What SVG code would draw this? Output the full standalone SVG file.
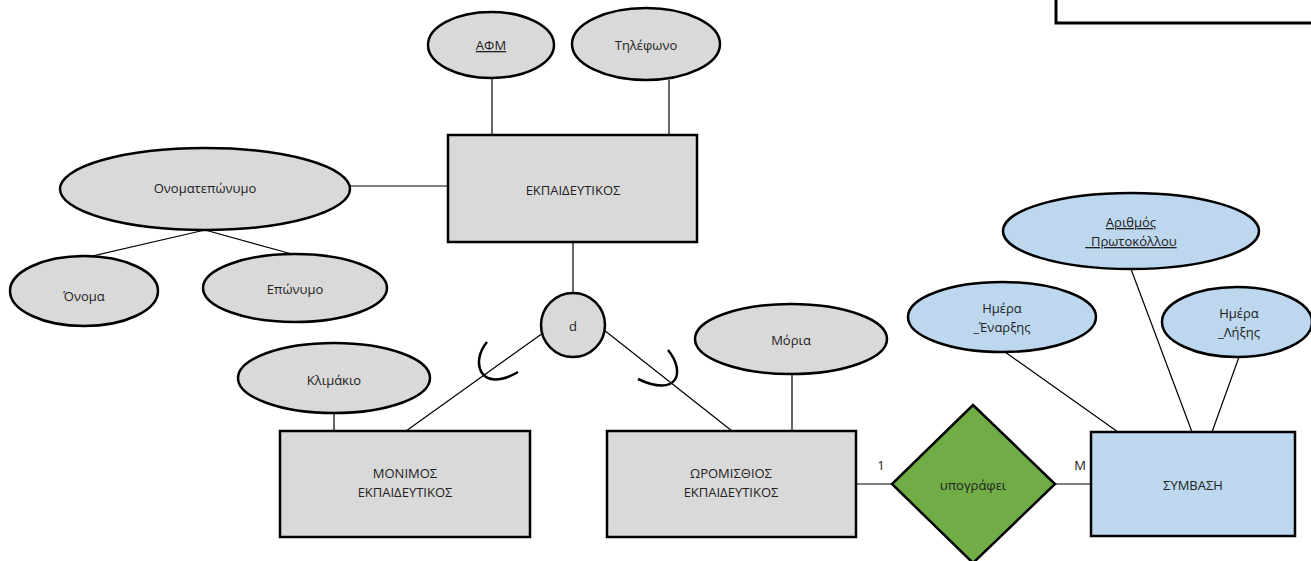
<svg xmlns="http://www.w3.org/2000/svg" width="1311" height="561" viewBox="0 0 1311 561">
<style>
.ent{fill:#d9d9d9;stroke:#000;stroke-width:2.5}
.att{fill:#d9d9d9;stroke:#000;stroke-width:2.5}
.batt{fill:#bdd7ee;stroke:#000;stroke-width:2.5}
.ln{stroke:#000;stroke-width:1.2;fill:none}
.arc{stroke:#000;stroke-width:2.5;fill:none}
text{font-family:"Open Sans","Noto Sans","Liberation Sans",sans-serif;font-size:13px;fill:#222;text-anchor:middle}
.u{text-decoration:underline}
</style>
<rect x="0" y="0" width="1311" height="561" fill="#fff"/>
<rect x="1056" y="-10" width="270" height="33" fill="#fff" stroke="#000" stroke-width="3"/>
<g id="connectors">
<line class="ln" x1="492" y1="79" x2="492" y2="135"/>
<line class="ln" x1="669" y1="80" x2="669" y2="135"/>
<line class="ln" x1="350" y1="186" x2="447" y2="186"/>
<line class="ln" x1="205" y1="230" x2="88" y2="257"/>
<line class="ln" x1="205" y1="230" x2="292" y2="254"/>
<line class="ln" x1="573" y1="242" x2="573" y2="293"/>
<line class="ln" x1="543" y1="333" x2="406" y2="431"/>
<line class="ln" x1="604" y1="330" x2="732" y2="431"/>
<path class="arc" d="M487,342 C470,362 480,394 518,372"/>
<path class="arc" d="M668,350 C686,372 678,398 638,379"/>
<line class="ln" x1="334" y1="413" x2="334" y2="431"/>
<line class="ln" x1="792" y1="374" x2="792" y2="431"/>
<line class="ln" x1="856" y1="484" x2="892" y2="484"/>
<line class="ln" x1="1055" y1="484" x2="1091" y2="484"/>
<line class="ln" x1="1005" y1="352" x2="1118" y2="432"/>
<line class="ln" x1="1131" y1="269" x2="1192" y2="432"/>
<line class="ln" x1="1239" y1="357" x2="1212" y2="432"/>
<text x="881" y="470">1</text>
<text x="1080" y="470">M</text>
</g>
<g id="afm"><ellipse class="att" cx="491" cy="45" rx="63" ry="33"/><text class="u" x="491" y="50">ΑΦΜ</text></g>
<g id="tilefono"><ellipse class="att" cx="646" cy="44" rx="74" ry="36"/><text x="646" y="50">Τηλέφωνο</text></g>
<g id="ekpaideutikos"><rect class="ent" x="448" y="135" width="249" height="107"/><text x="573" y="195">ΕΚΠΑΙΔΕΥΤΙΚΟΣ</text></g>
<g id="onomateponymo"><ellipse class="att" cx="205" cy="189" rx="145" ry="41"/><text x="205" y="193">Ονοματεπώνυμο</text></g>
<g id="onoma"><ellipse class="att" cx="84" cy="291" rx="74" ry="35"/><text x="84" y="301">Όνομα</text></g>
<g id="eponymo"><ellipse class="att" cx="295" cy="288" rx="92" ry="34"/><text x="295" y="294">Επώνυμο</text></g>
<g id="d"><circle class="att" cx="573" cy="325" r="32"/><text x="573" y="331">d</text></g>
<g id="klimakio"><ellipse class="att" cx="334" cy="378" rx="96" ry="35"/><text x="334" y="385">Κλιμάκιο</text></g>
<g id="monimos"><rect class="ent" x="280" y="431" width="250" height="106"/><text x="405" y="478">ΜΟΝΙΜΟΣ</text><text x="405" y="497">ΕΚΠΑΙΔΕΥΤΙΚΟΣ</text></g>
<g id="moria"><ellipse class="att" cx="791" cy="339" rx="96" ry="35"/><text x="791" y="345">Μόρια</text></g>
<g id="oromisthios"><rect class="ent" x="607" y="431" width="249" height="106"/><text x="731" y="478">ΩΡΟΜΙΣΘΙΟΣ</text><text x="731" y="497">ΕΚΠΑΙΔΕΥΤΙΚΟΣ</text></g>
<g id="ypografei"><polygon points="973,405 1055,484 973,563 892,484" fill="#70ad47" stroke="#000" stroke-width="2.5"/><text x="973" y="490">υπογράφει</text></g>
<g id="symvasi"><rect x="1091" y="432" width="204" height="104" fill="#bdd7ee" stroke="#000" stroke-width="2.5"/><text x="1193" y="490">ΣΥΜΒΑΣΗ</text></g>
<g id="arithmos"><ellipse class="batt" cx="1131" cy="231" rx="128" ry="38"/><text class="u" x="1131" y="227">Αριθμός</text><text class="u" x="1131" y="246">_Πρωτοκόλλου</text></g>
<g id="enarxi"><ellipse class="batt" cx="1002" cy="317" rx="94" ry="35"/><text x="1002" y="313">Ημέρα</text><text x="1002" y="332">_Έναρξης</text></g>
<g id="lixi"><ellipse class="batt" cx="1237" cy="322" rx="75" ry="35"/><text x="1239" y="318">Ημέρα</text><text x="1239" y="337">_Λήξης</text></g>
</svg>
